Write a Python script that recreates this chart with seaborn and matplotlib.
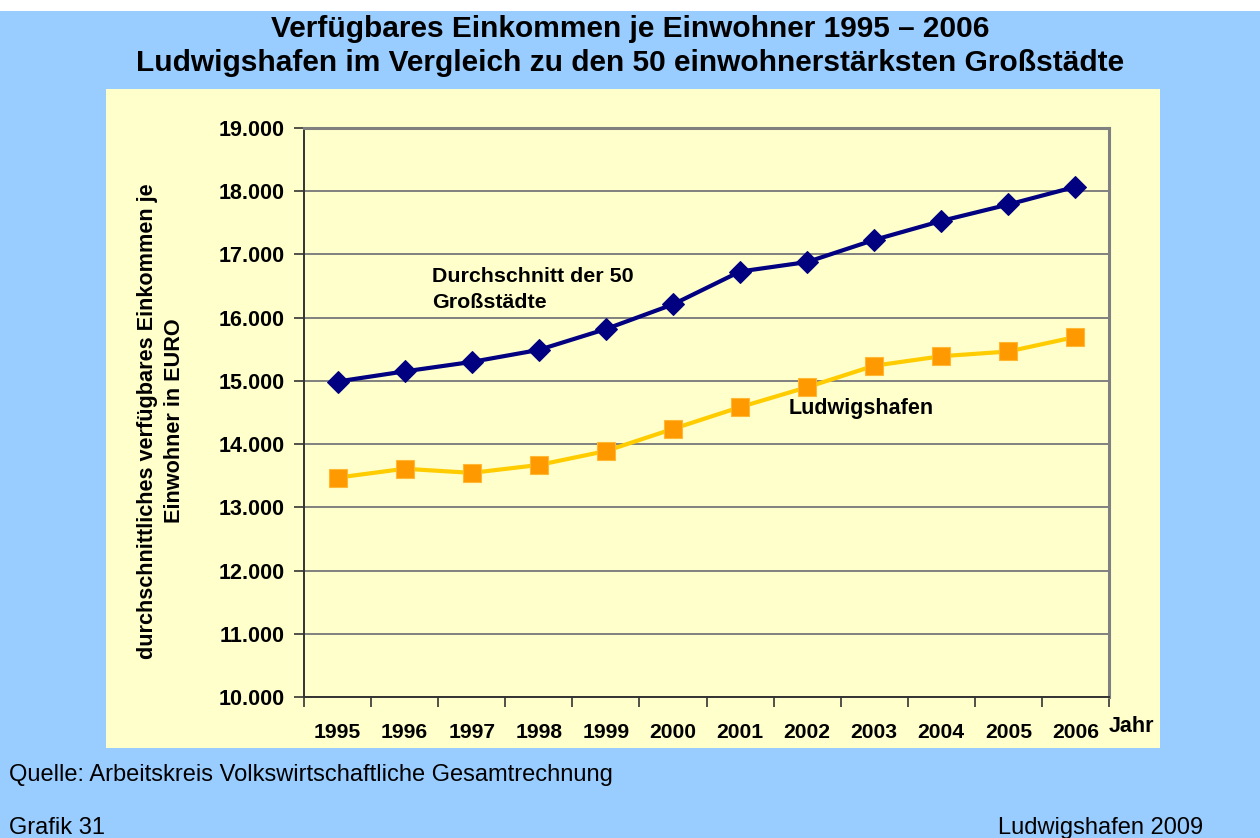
import matplotlib
matplotlib.use("Agg")
import matplotlib.pyplot as plt
from matplotlib.patches import Rectangle
from matplotlib.ticker import FuncFormatter, FixedLocator
import numpy as np
import pandas as pd
import seaborn as sns

# --- data -------------------------------------------------------------
years = [1995, 1996, 1997, 1998, 1999, 2000, 2001, 2002, 2003, 2004, 2005, 2006]
durchschnitt_50 = [14990, 15150, 15300, 15490, 15820, 16210,
                   16730, 16880, 17230, 17530, 17790, 18070]
ludwigshafen = [13470, 13610, 13545, 13670, 13890, 14240,
                14585, 14900, 15240, 15390, 15465, 15695]
y_ticks = [10000, 11000, 12000, 13000, 14000, 15000, 16000, 17000, 18000, 19000]

title = ("Verfügbares Einkommen je Einwohner 1995 – 2006\n"
         "Ludwigshafen im Vergleich zu den 50 einwohnerstärksten Großstädte")
y_label = "durchschnittliches verfügbares Einkommen je\nEinwohner in EURO"

# --- style ------------------------------------------------------------
sns.set_style("white")
plt.rcParams["font.family"] = ["Liberation Sans", "DejaVu Sans"]
for key in ("text.color", "axes.labelcolor", "xtick.color", "ytick.color"):
    plt.rcParams[key] = "black"

BG_BLUE = "#99CCFF"
PANEL = "#FFFFCC"
NAVY = "#000080"
GOLD = "#FFCC00"
ORANGE = "#FF9900"
GRID = "#808080"

W, H = 1260, 838
fig = plt.figure(figsize=(W / 100, H / 100), dpi=100, facecolor=BG_BLUE)


def fx(px):
    return px / W


def fy(py):
    return 1 - py / H


# white strip along the top edge and the pale yellow chart panel
fig.patches.append(Rectangle((0, fy(11)), 1, 11 / H, transform=fig.transFigure,
                             facecolor="white", edgecolor="none", zorder=-2))
fig.patches.append(Rectangle((fx(106), fy(748)), fx(1160 - 106), (748 - 89) / H,
                             transform=fig.transFigure, facecolor=PANEL,
                             edgecolor="none", zorder=-2))

ax = fig.add_axes([fx(304), fy(697), fx(1109 - 304), (697 - 128) / H])
ax.set_facecolor(PANEL)

df = pd.DataFrame({"Jahr": years, "Durchschnitt": durchschnitt_50,
                   "Ludwigshafen": ludwigshafen})

sns.lineplot(data=df, x="Jahr", y="Ludwigshafen", ax=ax, color=GOLD, lw=3.0,
             marker="s", markersize=12.5, markerfacecolor=ORANGE,
             markeredgecolor="#FFB833", markeredgewidth=0.8, zorder=3)
sns.lineplot(data=df, x="Jahr", y="Durchschnitt", ax=ax, color=NAVY, lw=3.0,
             marker="D", markersize=11, markerfacecolor=NAVY,
             markeredgecolor=NAVY, zorder=4)

# axes limits / ticks
ax.set_xlim(years[0] - 0.5, years[-1] + 0.5)
ax.set_ylim(y_ticks[0], y_ticks[-1])
ax.set_yticks(y_ticks)
ax.yaxis.set_major_formatter(FuncFormatter(lambda v, p: f"{v:,.0f}".replace(",", ".")))

boundaries = [y - 0.5 for y in years] + [years[-1] + 0.5]
ax.xaxis.set_major_locator(FixedLocator(boundaries))
ax.xaxis.set_major_formatter(FuncFormatter(lambda v, p: ""))
ax.xaxis.set_minor_locator(FixedLocator(years))
ax.xaxis.set_minor_formatter(FuncFormatter(lambda v, p: f"{int(round(v))}"))

ax.tick_params(axis="x", which="major", direction="out", length=7, width=1.2,
               color="#333333", bottom=True)
ax.tick_params(axis="x", which="minor", length=0, pad=19, labelsize=15.2)
ax.tick_params(axis="y", direction="out", length=7, width=1.2, color="#333333",
               left=True, pad=7, labelsize=15.5)
for lab in ax.get_xticklabels(minor=True) + ax.get_yticklabels():
    lab.set_fontweight("bold")

ax.set_xlabel("")
ax.set_ylabel("")

ax.grid(axis="y", color=GRID, lw=1.4)
ax.grid(axis="x", visible=False)
ax.set_axisbelow(True)

for side in ("left", "bottom"):
    ax.spines[side].set_color("#333333")
    ax.spines[side].set_linewidth(1.4)
for side in ("top", "right"):
    ax.spines[side].set_color(GRID)
    ax.spines[side].set_linewidth(2.2)

# in-plot series labels
ax.text(1996.41, 16440, "Durchschnitt der 50\nGroßstädte", fontsize=15.4,
        fontweight="bold", ha="left", va="center", linespacing=1.45)
ax.text(2001.73, 14560, "Ludwigshafen", fontsize=15.5, fontweight="bold",
        ha="left", va="center")

# axis captions
fig.text(fx(1131), fy(726), "Jahr", fontsize=15.5, fontweight="bold",
         ha="center", va="center")
fig.text(fx(161), fy(421), y_label, rotation=90, fontsize=15.6, fontweight="bold",
         ha="center", va="center", multialignment="center", linespacing=1.4)

# title
fig.text(0.5, fy(46), title, fontsize=21.5, fontweight="bold", ha="center",
         va="center", linespacing=1.27)

# footer
fig.text(fx(9), fy(775), "Quelle: Arbeitskreis Volkswirtschaftliche Gesamtrechnung",
         fontsize=17, ha="left", va="center")
fig.text(fx(9), fy(828), "Grafik 31", fontsize=17, ha="left", va="center")
fig.text(fx(1203), fy(828), "Ludwigshafen 2009", fontsize=17, ha="right",
         va="center")

fig.savefig("out.png", dpi=100, facecolor=BG_BLUE)
